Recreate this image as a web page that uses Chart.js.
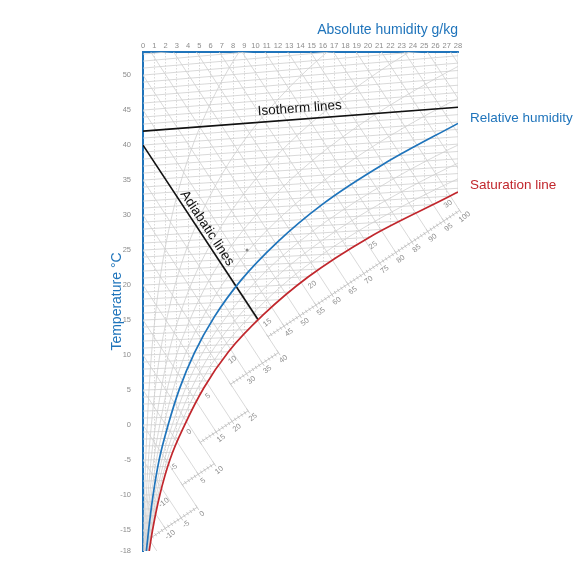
<!DOCTYPE html>
<html>
<head>
<meta charset="utf-8">
<script src="https://cdn.jsdelivr.net/npm/chart.js@4/dist/chart.umd.min.js"></script>
<style>
  html, body { margin: 0; padding: 0; background: #fff; }
</style>
</head>
<body>
<canvas id="mollierChart" width="576" height="576"></canvas>
<script>
var blue = "#1f74bb";
var red = "#c1272d";
var gridGrey = "#cfcfcf";
var textGrey = "#8c8c8c";

// axes
var humidityMin = 0, humidityMax = 28;
var temperatureMin = -18, temperatureMax = 53.3;
var temperatureTicks = [-18, -15, -10, -5, 0, 5, 10, 15, 20, 25, 30, 35, 40, 45, 50];

// saturation line (red), g/kg and chart °C
var saturationTemp = [-18, -15, -10, -5, 0, 5, 10, 15, 20, 25, 30, 30.4];
var saturationX = [0.55, 0.85, 1.5, 2.4, 3.75, 5.4, 7.6, 10.7, 14.7, 20.1, 27.3, 28];
var saturationY = [-18, -15, -9.96, -4.92, 0.16, 5.29, 10.47, 15.76, 21.18, 26.81, 32.71, 33.3];

// relative humidity line (blue)
var humidityLineX = [0.3, 0.5, 0.9, 1.44, 2.25, 3.24, 4.56, 6.34, 8.72, 11.9, 16.0, 21.4, 28];
var humidityLineY = [-18, -15, -9.98, -4.95, 0.1, 5.17, 10.28, 15.45, 20.7, 26.07, 31.6, 37.3, 43.1];

// black example lines
var isothermX = [0, 28];
var isothermY = [42, 45.4];
var adiabatX = [0, 10.25];
var adiabatY = [40, 15.0];

// small grey point
var statePointX = [9.25];
var statePointY = [25];

// grey grid of the h-x chart
var gridTemps = [-18, -15, -10, -5, 0, 5, 10, 15, 20, 25, 30, 35, 40, 45, 50, 55];
var gridSatX = [0.55, 0.85, 1.5, 2.4, 3.75, 5.4, 7.6, 10.7, 14.7, 20.1, 27.3, 36.6, 48.8, 65, 86.2, 114.7];
var rhLevels = [0.1, 0.2, 0.3, 0.4, 0.5, 0.7, 0.8, 0.9];
var isothermRiseAt0 = 1.22;   // °C climbed across 0..28 g/kg
var isothermRiseAt42 = 3.4;
var adiabatSlope = -2.44;     // °C per g/kg
var enthalpyLines = [-15, -10, -5, 0, 5, 10, 15, 20, 25, 30, 35, 40, 45, 50, 55, 60, 65, 70,
  75, 80, 85, 90, 95, 100, 105, 110, 115, 120];

// enthalpy scale pieces (kJ/kg) below the saturation line
var scaleFrom = [-14, 0, 10, 25, 40];
var scaleTo = [0, 10, 25, 40, 100];
var scaleStartX = [0.84, 3.49, 5.08, 7.78, 11.11];
var scaleStartY = [-15.97, -8.53, -2.49, 5.83, 12.63];
var scaleEndX = [4.81, 6.33, 9.34, 12.04, 28.15];
var scaleEndY = [-11.76, -5.53, 2.03, 10.34, 30.66];

function isoSlope(t) {
  return (isothermRiseAt0 + (isothermRiseAt42 - isothermRiseAt0) * t / 42) / 28;
}
function zip(xs, ys) {
  return xs.map(function(x, i) { return { x: x, y: ys[i] }; });
}
function scalePoint(s, h) {
  var f = (h - scaleFrom[s]) / (scaleTo[s] - scaleFrom[s]);
  return {
    x: scaleStartX[s] + (scaleEndX[s] - scaleStartX[s]) * f,
    y: scaleStartY[s] + (scaleEndY[s] - scaleStartY[s]) * f
  };
}
function greyLine(points, order) {
  return {
    data: points, showLine: true, borderColor: gridGrey, borderWidth: 0.8,
    pointRadius: 0, order: order, fill: false
  };
}

var datasets = [];

// main lines
datasets.push({
  data: zip(saturationX, saturationY), showLine: true, borderColor: red, borderWidth: 1.7,
  pointRadius: 0, cubicInterpolationMode: "monotone", order: 1
});
datasets.push({
  data: zip(humidityLineX, humidityLineY), showLine: true, borderColor: blue, borderWidth: 1.7,
  pointRadius: 0, cubicInterpolationMode: "monotone", order: 1
});
datasets.push({
  data: zip(isothermX, isothermY), showLine: true, borderColor: "#111", borderWidth: 1.6,
  pointRadius: 0, order: 2
});
datasets.push({
  data: zip(adiabatX, adiabatY), showLine: true, borderColor: "#111", borderWidth: 1.6,
  pointRadius: 0, order: 2
});
datasets.push({
  data: zip(statePointX, statePointY), showLine: false, pointRadius: 1.5,
  pointBackgroundColor: "#888", pointBorderWidth: 0, order: 2
});

// white fog area under the saturation line
datasets.push({
  data: zip(saturationX, saturationY), showLine: true, borderWidth: 0, borderColor: "rgba(0,0,0,0)",
  backgroundColor: "#ffffff", fill: "start", pointRadius: 0,
  cubicInterpolationMode: "monotone", order: 15
});

// right edge of the grid, above the saturation line only
datasets.push(greyLine([
  { x: humidityMax, y: saturationY[saturationY.length - 1] },
  { x: humidityMax, y: temperatureMax }
], 20));

// isotherms every 1 °C
for (var t = -18; t <= 53; t++) {
  datasets.push(greyLine([{ x: 0, y: t }, { x: 28, y: t + 28 * isoSlope(t) }], 20));
}

// relative humidity curves
rhLevels.forEach(function(phi) {
  var pts = gridTemps.map(function(tt, i) {
    var xs = gridSatX[i];
    var x = 622 * phi * xs / (622 + (1 - phi) * xs);
    return { x: x, y: tt + x * isoSlope(tt) };
  });
  var ds = greyLine(pts, 20);
  ds.cubicInterpolationMode = "monotone";
  datasets.push(ds);
});

// adiabatic lines, running on into the fog area down to the enthalpy scale
enthalpyLines.forEach(function(h) {
  var end = null;
  for (var s = 0; s < scaleFrom.length; s++) {
    if (h > scaleFrom[s] && h <= scaleTo[s]) { end = scalePoint(s, h); break; }
  }
  if (!end) {
    if (h < scaleFrom[0]) end = { x: (-30 - h) / adiabatSlope, y: -30 };
    else end = { x: 40, y: h + adiabatSlope * 40 };
  }
  datasets.push(greyLine([{ x: 0, y: h }, end], 10));
});

// enthalpy scale pieces with ticks every 1 kJ/kg
scaleFrom.forEach(function(h0, s) {
  var pts = [];
  var hs = [];
  for (var h = Math.ceil(h0); h <= scaleTo[s]; h++) {
    pts.push(scalePoint(s, h));
    hs.push(h);
  }
  datasets.push({
    data: pts, showLine: true, borderColor: "#c2c2c2", borderWidth: 0.9,
    pointStyle: "line", pointRotation: 56.7,
    pointRadius: function(c) { return hs[c.dataIndex] % 5 === 0 ? 3 : 1.8; },
    pointBorderColor: "#bababa", pointBorderWidth: 0.8,
    order: 10, clip: false
  });
});

function drawText(ctx, text, x, y, angle, dy) {
  ctx.save();
  ctx.translate(x, y);
  ctx.rotate(angle * Math.PI / 180);
  ctx.fillText(text, 0, dy || 0);
  ctx.restore();
}

var chartLabels = {
  id: "chartLabels",
  afterDatasetsDraw: function(chart) {
    var ctx = chart.ctx;
    var sx = chart.scales.x, sy = chart.scales.y;
    function px(v) { return sx.getPixelForValue(v); }
    function py(v) { return sy.getPixelForValue(v); }
    ctx.save();

    // small numbers: saturation temperatures and enthalpy scale
    ctx.font = '7.5px "Liberation Sans", Arial, sans-serif';
    ctx.fillStyle = textGrey;
    ctx.textAlign = "center";
    ctx.textBaseline = "middle";
    saturationTemp.forEach(function(tt, i) {
      if (tt % 5 !== 0 || tt < -10) return;
      var dx = tt === 30 ? -2 : 4;
      drawText(ctx, String(tt), px(saturationX[i]) + dx, py(saturationY[i]) + 8, -38);
    });
    scaleFrom.forEach(function(h0, s) {
      var first = s === 0 ? -10 : h0 + 5;
      for (var h = first; h <= scaleTo[s]; h += 5) {
        var p = scalePoint(s, h);
        drawText(ctx, String(h), px(p.x) + 5, py(p.y) + 6.5, -38);
      }
    });

    // captions on the black lines
    ctx.font = '13.5px "Liberation Sans", Arial, sans-serif';
    ctx.fillStyle = "#111";
    ctx.textBaseline = "alphabetic";
    var ix0 = px(isothermX[0]), iy0 = py(isothermY[0]), ix1 = px(isothermX[1]), iy1 = py(isothermY[1]);
    drawText(ctx, "Isotherm lines", (ix0 + ix1) / 2, (iy0 + iy1) / 2,
      Math.atan2(iy1 - iy0, ix1 - ix0) * 180 / Math.PI, -7);
    var ax0 = px(adiabatX[0]), ay0 = py(adiabatY[0]), ax1 = px(adiabatX[1]), ay1 = py(adiabatY[1]);
    drawText(ctx, "Adiabatic lines", (ax0 + ax1) / 2, (ay0 + ay1) / 2,
      Math.atan2(ay1 - ay0, ax1 - ax0) * 180 / Math.PI, -4);

    // right hand captions
    ctx.textAlign = "left";
    ctx.textBaseline = "middle";
    ctx.fillStyle = blue;
    var lastB = humidityLineX.length - 1;
    ctx.fillText("Relative humidity", px(humidityLineX[lastB]) + 12, py(humidityLineY[lastB]) - 5);
    ctx.fillStyle = red;
    var lastR = saturationX.length - 1;
    ctx.fillText("Saturation line", px(saturationX[lastR]) + 12, py(saturationY[lastR]) - 7);
    ctx.restore();
  }
};

Chart.defaults.font.family = '"Liberation Sans", Arial, sans-serif';

var mollierChart = new Chart(document.getElementById("mollierChart"), {
  type: "scatter",
  data: { datasets: datasets },
  options: {
    responsive: false,
    animation: false,
    layout: { padding: { left: 105, top: 18, right: 118, bottom: 25 } },
    plugins: {
      legend: { display: false },
      tooltip: { enabled: false }
    },
    scales: {
      x: {
        type: "linear",
        position: "top",
        min: humidityMin,
        max: humidityMax,
        afterFit: function(axis) { axis.height = 34; },
        ticks: { stepSize: 1, color: textGrey, font: { size: 7.5 }, padding: 2, maxRotation: 0, autoSkip: false },
        grid: {
          color: function(c) { return c.tick && c.tick.value === humidityMax ? "rgba(0,0,0,0)" : gridGrey; },
          lineWidth: 0.8,
          drawTicks: false
        },
        border: { color: blue, width: 2, dash: [1.5, 1.5] },
        title: { display: true, text: "Absolute humidity g/kg", color: blue, align: "end", font: { size: 14 } }
      },
      y: {
        type: "linear",
        min: temperatureMin,
        max: temperatureMax,
        afterFit: function(axis) { axis.width = 38; },
        afterBuildTicks: function(axis) {
          axis.ticks = temperatureTicks.map(function(v) { return { value: v }; });
        },
        ticks: { color: textGrey, font: { size: 7.5 }, padding: 4 },
        grid: { display: false },
        border: { color: blue, width: 2 },
        title: { display: true, text: "Temperature °C", color: blue, font: { size: 14 } }
      }
    }
  },
  plugins: [chartLabels]
});
</script>
</body>
</html>
